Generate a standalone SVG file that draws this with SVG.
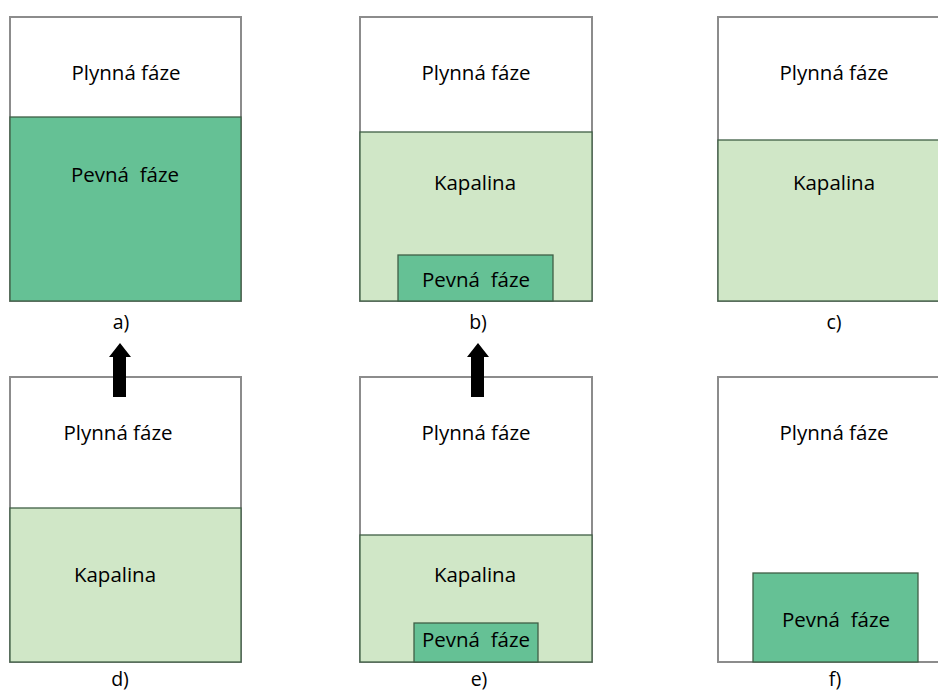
<svg xmlns="http://www.w3.org/2000/svg" width="938" height="693" viewBox="0 0 938 693">
<style>
text{font-family:"Open Sans","Liberation Sans",sans-serif;font-size:20.5px;fill:#000;text-anchor:middle}
.lbl{font-size:19.5px}
.gas{fill:#fff;stroke:#8c8c8c;stroke-width:2}
.liq{fill:#d0e7c7;stroke:#3f5f46;stroke-width:1.3}
.sol{fill:#65c195;stroke:#3f5f46;stroke-width:1.3}
.arr{fill:#000}
</style>
<rect width="938" height="693" fill="#fff"/>
<g id="panel-a">
<rect class="gas" x="10" y="17" width="231" height="284"/>
<rect class="sol" x="10" y="117" width="231" height="184"/>
<text x="126" y="80">Plynná fáze</text>
<text x="125" y="182" xml:space="preserve">Pevná  fáze</text>
<text class="lbl" x="121" y="329">a)</text>
</g>
<g id="panel-b">
<rect class="gas" x="360" y="17" width="232" height="284"/>
<rect class="liq" x="360" y="132" width="232" height="169"/>
<rect class="sol" x="398" y="255" width="155" height="46"/>
<text x="476" y="80">Plynná fáze</text>
<text x="475" y="190">Kapalina</text>
<text x="476" y="287" xml:space="preserve">Pevná  fáze</text>
<text class="lbl" x="478" y="329">b)</text>
</g>
<g id="panel-c">
<rect class="gas" x="718" y="17" width="240" height="284"/>
<rect class="liq" x="718" y="140" width="240" height="161"/>
<text x="834" y="80">Plynná fáze</text>
<text x="834" y="190">Kapalina</text>
<text class="lbl" x="834" y="329">c)</text>
</g>
<g id="panel-d">
<rect class="gas" x="10" y="377" width="231" height="285"/>
<rect class="liq" x="10" y="508" width="231" height="154"/>
<text x="118" y="440">Plynná fáze</text>
<text x="115" y="582">Kapalina</text>
<text class="lbl" x="120" y="686">d)</text>
</g>
<g id="panel-e">
<rect class="gas" x="360" y="377" width="232" height="285"/>
<rect class="liq" x="360" y="535" width="232" height="127"/>
<rect class="sol" x="414" y="623" width="124" height="39"/>
<text x="476" y="440">Plynná fáze</text>
<text x="475" y="582">Kapalina</text>
<text x="476" y="647" xml:space="preserve">Pevná  fáze</text>
<text class="lbl" x="479" y="686">e)</text>
</g>
<g id="panel-f">
<rect class="gas" x="718" y="377" width="240" height="285"/>
<rect class="sol" x="753" y="573" width="165" height="89"/>
<text x="834" y="440">Plynná fáze</text>
<text x="836" y="627" xml:space="preserve">Pevná  fáze</text>
<text class="lbl" x="835" y="686">f)</text>
</g>
<g id="connectors">
<polygon class="arr" points="120,343 131,357 126,357 126,397 113,397 113,357 109,357"/>
<polygon class="arr" points="478,343 489,357 484,357 484,397 471,397 471,357 467,357"/>
</g>
</svg>
